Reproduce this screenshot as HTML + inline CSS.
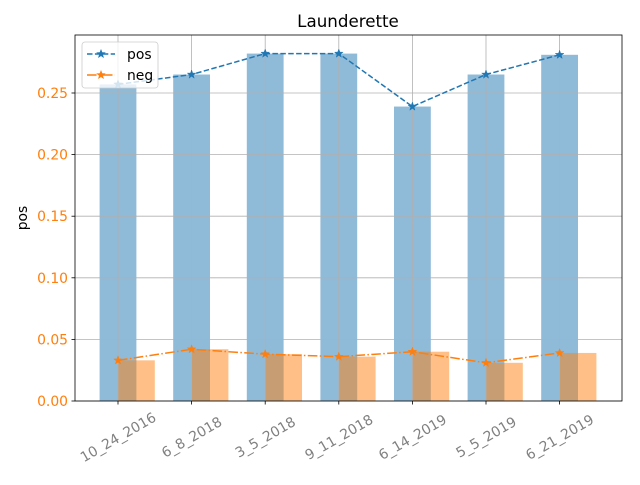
<!DOCTYPE html>
<html><head><style>
body{margin:0;background:#fff}
svg text{font-family:"DejaVu Sans","Liberation Sans",sans-serif}
</style></head><body>
<svg id="c" width="640" height="480" xmlns="http://www.w3.org/2000/svg"></svg>
<script>
const categories=["10_24_2016","6_8_2018","3_5_2018","9_11_2018","6_14_2019","5_5_2019","6_21_2019"];
const posValues=[0.257,0.265,0.282,0.282,0.239,0.265,0.281];
const negValues=[0.033,0.042,0.038,0.036,0.040,0.031,0.039];
const yTicks=[0,0.05,0.10,0.15,0.20,0.25];
const yTickLabels=["0.00","0.05","0.10","0.15","0.20","0.25"];

const L=75,R=622,T=35,B=401;
const x=i=>118+i*73.6;
const y=v=>401-v*1232;
const bw=36.8;
const s=document.getElementById('c');
const NS="http://www.w3.org/2000/svg";
function mk(tag,attrs,parent){const e=document.createElementNS(NS,tag);for(const k in attrs)e.setAttribute(k,attrs[k]);(parent||s).appendChild(e);return e;}

categories.forEach((c,i)=>{
  let r=mk('rect',{x:x(i)-bw/2,y:y(posValues[i]),width:bw,height:B-y(posValues[i]),fill:'#1f77b4','fill-opacity':0.5});
  
  
  let n=mk('rect',{x:x(i),y:y(negValues[i]),width:bw,height:B-y(negValues[i]),fill:'#ff7f0e','fill-opacity':0.5});
  
  
});
const g=mk('g',{});


yTicks.forEach(v=>mk('line',{x1:L,x2:R,y1:y(v),y2:y(v),stroke:'#b0b0b0','stroke-width':0.8},g));
categories.forEach((c,i)=>mk('line',{x1:x(i),x2:x(i),y1:T,y2:B,stroke:'#b0b0b0','stroke-width':0.8},g));
function star(cx,cy,r,col,parent){let p=[];for(let k=0;k<10;k++){const a=-Math.PI/2+k*Math.PI/5;const rr=k%2?r*0.4:r;p.push((cx+rr*Math.cos(a)).toFixed(1)+','+(cy+rr*Math.sin(a)).toFixed(1));}return mk('polygon',{points:p.join(' '),fill:col,stroke:col,'stroke-width':0.5},parent);}
const pl=mk('polyline',{points:posValues.map((v,i)=>x(i)+','+y(v)).join(' '),fill:'none',stroke:'#1f77b4','stroke-width':1.5,'stroke-dasharray':'5.5,2.4'});


posValues.forEach((v,i)=>star(x(i),y(v),4.5,'#1f77b4'));
const nl=mk('polyline',{points:negValues.map((v,i)=>x(i)+','+y(v)).join(' '),fill:'none',stroke:'#ff7f0e','stroke-width':1.5,'stroke-dasharray':'9.6,2.4,1.5,2.4'});


negValues.forEach((v,i)=>star(x(i),y(v),4.5,'#ff7f0e'));
const f=mk('rect',{x:L,y:T,width:R-L,height:B-T,fill:'none',stroke:'#000','stroke-width':0.8});


yTicks.forEach((v,i)=>{
  mk('line',{x1:L-3.5,x2:L,y1:y(v),y2:y(v),stroke:'#000','stroke-width':0.8});
  const t=mk('text',{x:L-7,y:y(v)+5,'text-anchor':'end','font-size':13.9,fill:'#ff7f0e'});
  t.textContent=yTickLabels[i];
  
  
});
categories.forEach((c,i)=>{
  mk('line',{x1:x(i),x2:x(i),y1:B,y2:B+3.5,stroke:'#000','stroke-width':0.8});
  const t=mk('text',{x:0,y:5,'text-anchor':'middle','font-size':13.9,fill:'#808080',transform:`translate(${x(i)},${B+36}) rotate(-30)`});
  t.textContent=c;
  
  
});
const yt=mk('text',{x:0,y:0,'text-anchor':'middle','font-size':13.9,transform:'translate(27,218) rotate(-90)'});
yt.textContent='pos';


const ti=mk('text',{x:348,y:27,'text-anchor':'middle','font-size':16.7});
ti.textContent='Launderette';


const lg=mk('g',{});


mk('rect',{x:82,y:42,width:76,height:46,rx:3,fill:'#fff','fill-opacity':0.8,stroke:'#ccc','stroke-width':0.8},lg);
mk('line',{x1:87,x2:115,y1:54,y2:54,stroke:'#1f77b4','stroke-width':1.5,'stroke-dasharray':'5.5,2.4'},lg);
star(101,54,4.5,'#1f77b4',lg);
mk('line',{x1:87,x2:115,y1:75,y2:75,stroke:'#ff7f0e','stroke-width':1.5,'stroke-dasharray':'9.6,2.4,1.5,2.4'},lg);
star(101,75,4.5,'#ff7f0e',lg);
const t1=mk('text',{x:127,y:59,'font-size':13.9},lg);t1.textContent='pos';


const t2=mk('text',{x:127,y:80,'font-size':13.9},lg);t2.textContent='neg';


</script>
</body></html>
